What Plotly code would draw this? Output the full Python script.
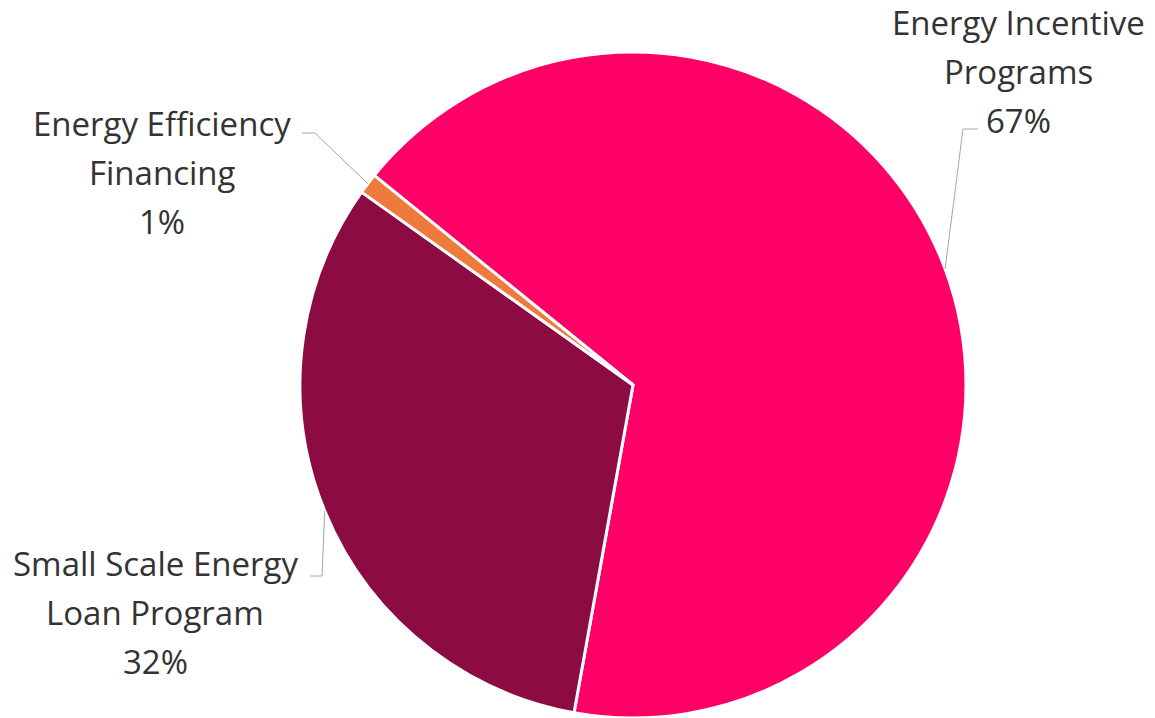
import math
import plotly.graph_objects as go

# Slice data (clockwise from the start angle)
labels = ["Energy Incentive Programs", "Small Scale Energy Loan Program", "Energy Efficiency Financing"]
label_lines = [["Energy Incentive", "Programs"], ["Small Scale Energy", "Loan Program"], ["Energy Efficiency", "Financing"]]
values = [67, 32, 1]
colors = ["#FF0066", "#8B0B42", "#EE7A3C"]

# Canvas and pie geometry (pixels)
W, H = 1155, 718
CX, CY, R = 633, 385, 333
ROTATION = -51

FONT = "Open Sans"
FONT_SIZE = 33
TEXT_COLOR = "#333333"
LINE_COLOR = "#A6A6A6"
LINE_GAP = 49

# Label block placement: centre x, first baseline y, leader elbow and end
label_layout = [
    {"x": 1018, "y": 32, "elbow": (963, 129), "end": (978, 129)},
    {"x": 155, "y": 573, "elbow": (322, 576), "end": (310, 576)},
    {"x": 162, "y": 133, "elbow": (315, 133), "end": (302, 133)},
]


def px(x):
    return x / W


def py(y):
    return 1 - y / H


fig = go.Figure(
    go.Pie(
        labels=labels,
        values=values,
        marker=dict(colors=colors, line=dict(color="white", width=3)),
        sort=False,
        direction="clockwise",
        rotation=ROTATION,
        textinfo="none",
        hoverinfo="label+percent",
        showlegend=False,
        domain=dict(x=[(CX - R) / W, (CX + R) / W], y=[(H - CY - R) / H, (H - CY + R) / H]),
    )
)

total = sum(values)
angle = ROTATION
annotations = []
shapes = []
for lines, v, lay in zip(label_lines, values, label_layout):
    mid = angle + 360 * v / total / 2
    angle += 360 * v / total
    a = math.radians(mid)
    ex, ey = CX + R * math.sin(a), CY - R * math.cos(a)
    (bx, by), (tx, ty) = lay["elbow"], lay["end"]
    shapes.append(dict(
        type="path", xref="paper", yref="paper",
        path=f"M {px(ex)} {py(ey)} L {px(bx)} {py(by)} L {px(tx)} {py(ty)}",
        line=dict(color=LINE_COLOR, width=1),
    ))
    pct = f"{round(100 * v / total)}%"
    for i, txt in enumerate(lines + [pct]):
        base = lay["y"] + i * LINE_GAP
        annotations.append(dict(
            text=txt, xref="paper", yref="paper",
            x=px(lay["x"]), y=py(base - 0.3 * FONT_SIZE),
            xanchor="center", yanchor="middle", showarrow=False,
            borderpad=0,
            font=dict(family=FONT, size=FONT_SIZE, color=TEXT_COLOR),
        ))

fig.update_layout(
    width=W, height=H,
    margin=dict(l=0, r=0, t=0, b=0),
    paper_bgcolor="white",
    plot_bgcolor="white",
    annotations=annotations,
    shapes=shapes,
)

fig.write_html("out.html")
